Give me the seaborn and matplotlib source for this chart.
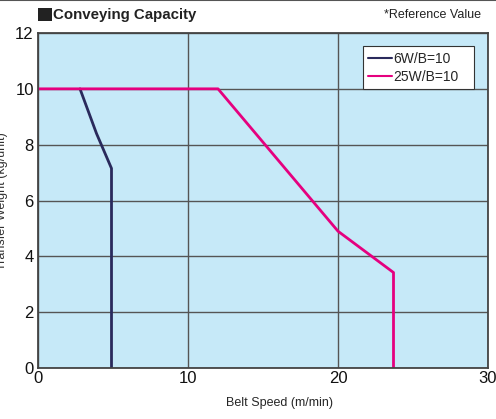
import matplotlib
matplotlib.use("Agg")
import matplotlib.pyplot as plt
import seaborn as sns
import pandas as pd
from matplotlib.lines import Line2D
from matplotlib.patches import Rectangle

# data
series_names = ["6W/B=10", "25W/B=10"]
speed_6w = [2.8, 3.9, 4.9, 4.9]
weight_6w = [10.0, 8.4, 7.15, 0.0]
speed_25w = [0.0, 12.0, 20.0, 23.7, 23.7]
weight_25w = [10.0, 10.0, 4.9, 3.42, 0.0]
x_ticks = [0, 10, 20, 30]
y_ticks = [0, 2, 4, 6, 8, 10, 12]
colors = ["#2a2a5c", "#e5007f"]

df = pd.concat([
    pd.DataFrame({"speed": speed_6w, "weight": weight_6w, "series": series_names[0]}),
    pd.DataFrame({"speed": speed_25w, "weight": weight_25w, "series": series_names[1]}),
])

sns.set_style("white")
plt.rcParams['font.family'] = ['Liberation Sans', 'DejaVu Sans']

W, H = 496, 419
fig = plt.figure(figsize=(W/100, H/100), dpi=100)
ax = fig.add_axes([38/W, 1-368/H, 450/W, 335/H])
ax.set_facecolor("#c6e9f8")

sns.lineplot(data=df, x="speed", y="weight", hue="series", palette=colors,
             estimator=None, sort=False, linewidth=2, ax=ax, legend=False)

ax.set_xlim(0, 30)
ax.set_ylim(0, 12)
ax.set_xticks(x_ticks)
ax.set_yticks(y_ticks)
ax.grid(True, color="#555555", linewidth=1.0)
ax.set_axisbelow(True)
for s in ax.spines.values():
    s.set_color("#444444")
    s.set_linewidth(1.3)
ax.tick_params(axis="both", length=0, labelsize=12, colors="#111111")
ax.tick_params(axis="y", pad=3)
ax.tick_params(axis="x", pad=2)
ax.set_xlabel("")
ax.set_ylabel("")

handles = [Line2D([0], [0], color=c, lw=1.5) for c in colors]
leg = ax.legend(handles, series_names, loc="upper left",
                bbox_to_anchor=((362.7-38)/450, (368-86.7)/335, (474-362.7)/450, (86.7-46)/335),
                mode="expand", borderaxespad=0,
                frameon=True, fancybox=False, fontsize=10, handlelength=1.7,
                handletextpad=0.1, borderpad=0.4, labelspacing=0.3)
leg.get_frame().set_edgecolor("#333333")
leg.get_frame().set_linewidth(0.8)
leg.get_frame().set_facecolor("white")
leg.get_frame().set_alpha(1)

fig.text(280/W, 1-403/H, "Belt Speed (m/min)", ha="center", va="center", fontsize=9)
fig.text(2/W, 0.52, "Transfer Weight (kg/unit)", ha="center", va="center", rotation=90,
         fontsize=9, color="#333333")
fig.add_artist(Rectangle((38/W, 1-21/H), 14/W, 13/H, transform=fig.transFigure,
                         facecolor="#222222", edgecolor="none"))
fig.text(53/W, 1-15/H, "Conveying Capacity", ha="left", va="center", fontsize=10.8, fontweight="bold",
         color="#222222")
fig.text(481/W, 1-15/H, "*Reference Value", ha="right", va="center", fontsize=9, color="#222222")
fig.add_artist(Line2D([0, 1], [0.999, 0.999], color="#555555", lw=1.5, transform=fig.transFigure))

fig.savefig("out.png", dpi=100)
